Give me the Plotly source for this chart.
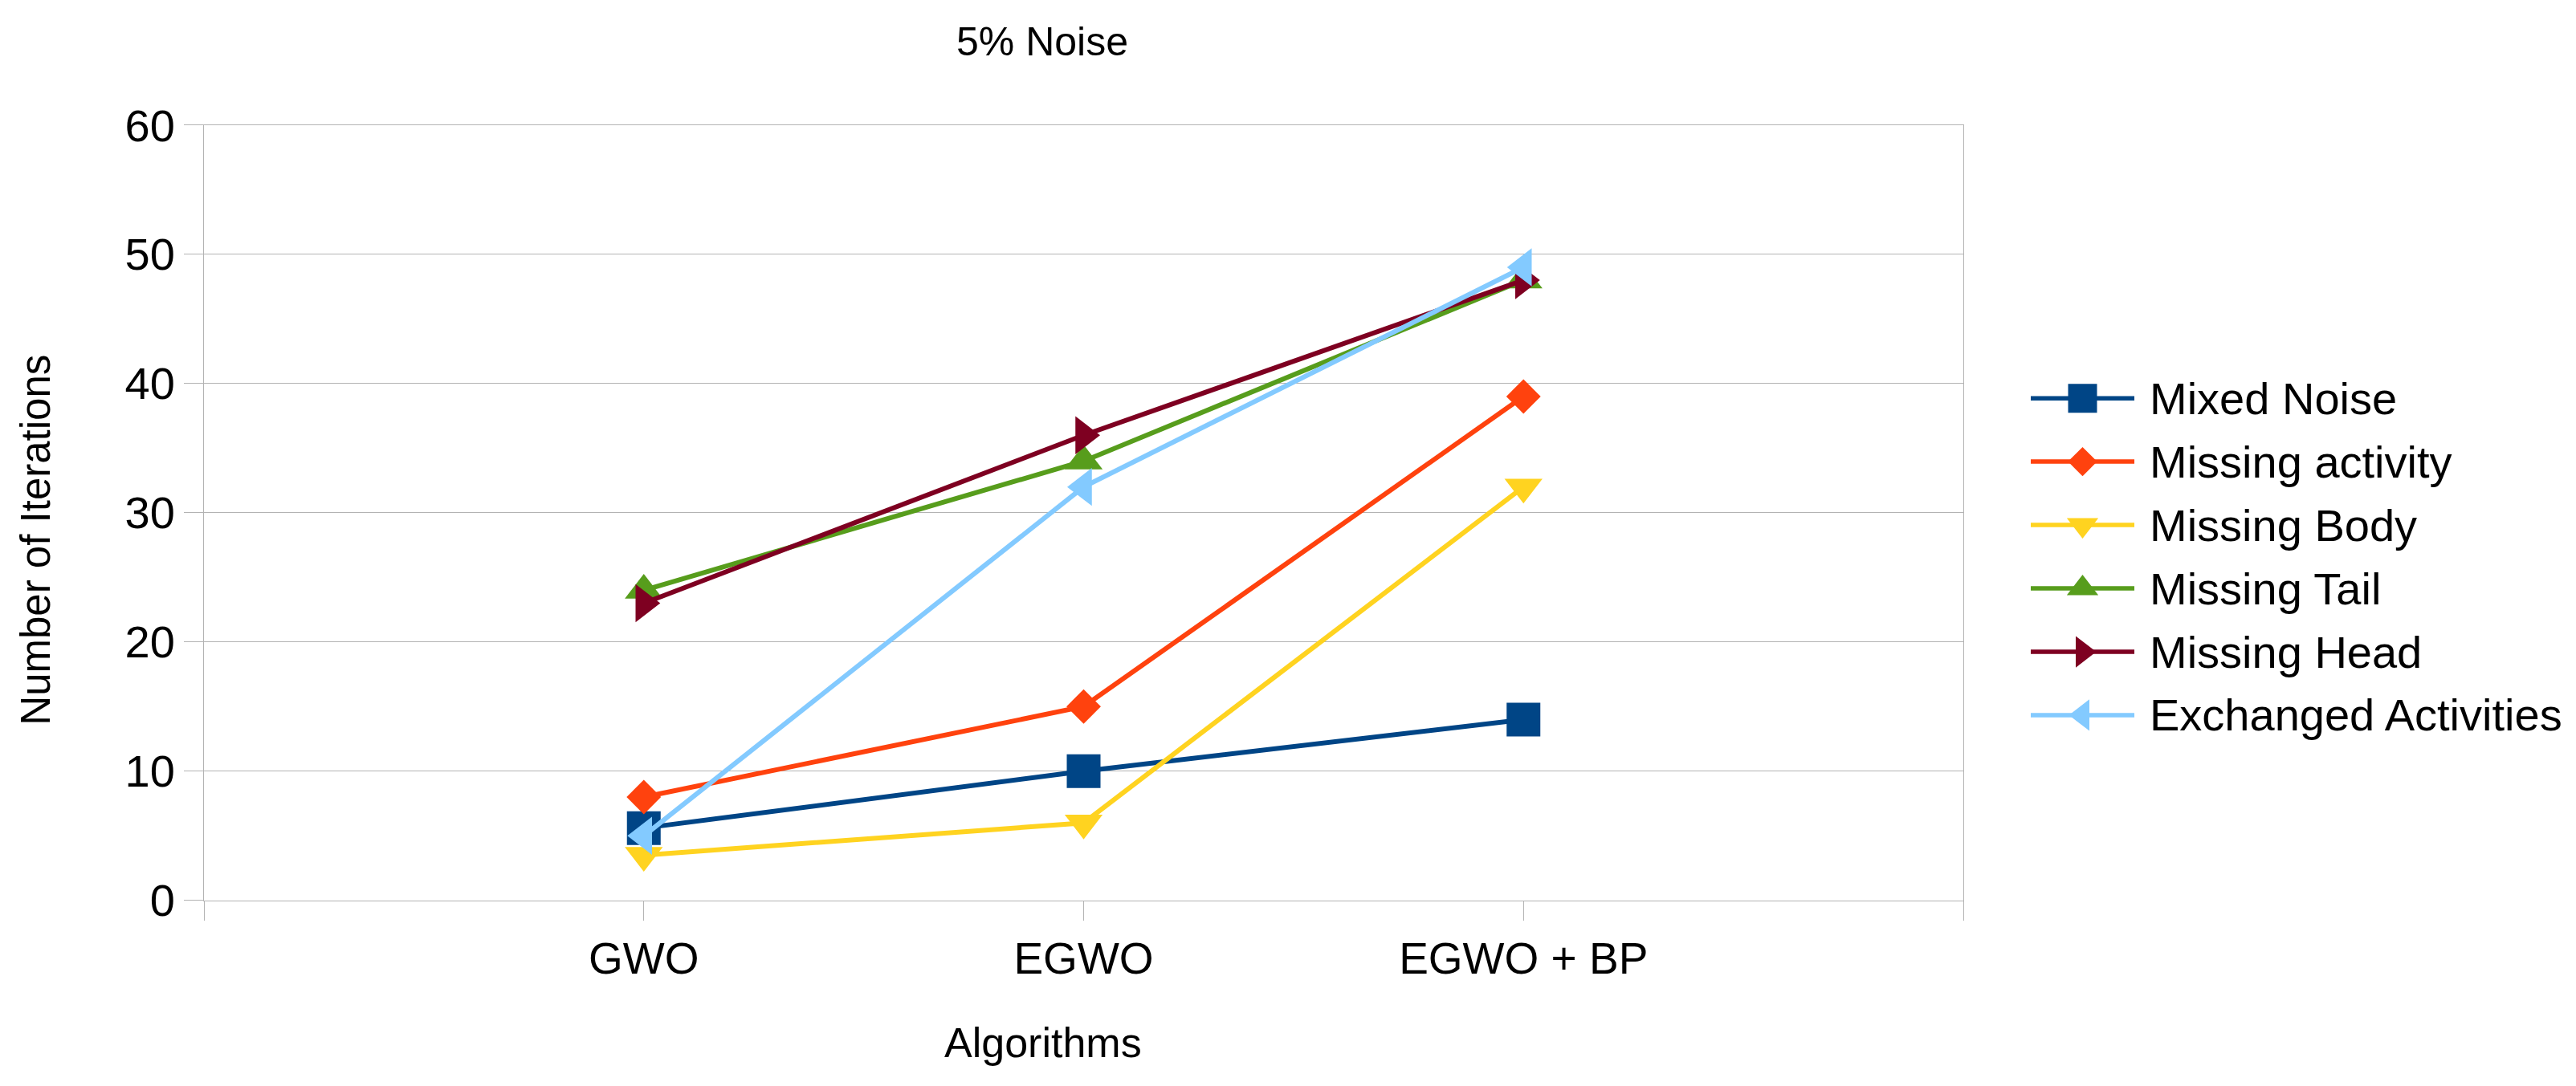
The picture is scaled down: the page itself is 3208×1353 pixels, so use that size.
import plotly.graph_objects as go

# ---------------- data ----------------
categories = ["GWO", "EGWO", "EGWO + BP"]
series_names = ["Mixed Noise", "Missing activity", "Missing Body",
                "Missing Tail", "Missing Head", "Exchanged Activities"]
mixed_noise = [5.6, 10, 14]
missing_activity = [8, 15, 39]
missing_body = [3.5, 6, 32]
missing_tail = [24, 34, 48]
missing_head = [23, 36, 48]
exchanged_activities = [5, 32, 49]
y_tick_values = [0, 10, 20, 30, 40, 50, 60]

series_values = [mixed_noise, missing_activity, missing_body,
                 missing_tail, missing_head, exchanged_activities]

# ---------------- style ----------------
colors = ["#004586", "#ff420e", "#ffd320", "#579d1c", "#7e0021", "#83caff"]
symbols = ["square", "diamond", "triangle-down", "triangle-up",
           "triangle-right", "triangle-left"]
marker_sizes = [42, 33, 41, 41, 41, 41]
legend_marker_sizes = [36, 28, 34, 34, 34, 34]
FONT = "Liberation Sans, Arial, sans-serif"
GRID = "#b3b3b3"

W, H = 3208, 1353

# layout helpers: target pixel positions (as seen in the reference) -> layout px
SQ, OY, OX = 0.9575, 36.6, 8.0


def py(y):
    return (y - OY) / SQ


def px(x):
    return x - OX


PL, PR, PT, PB = px(254), px(2445), py(154), py(1124)   # plot area

fig = go.Figure()
x_idx = list(range(len(categories)))

for name, vals, c, sym, sz in zip(series_names, series_values, colors, symbols, marker_sizes):
    fig.add_trace(go.Scatter(
        x=x_idx, y=vals, mode="lines+markers", name=name,
        line=dict(color=c, width=6),
        marker=dict(symbol=sym, size=sz, color=c, line=dict(width=0)),
        xaxis="x", yaxis="y", showlegend=False))

# ---------------- custom legend (pixel overlay axes) ----------------
LEG_X0, LEG_X1 = px(2529), px(2658)
LEG_TEXT_X = px(2675)
LEG_Y0, LEG_DY = py(495.7), 79.3 / SQ
annotations = []
for i, (name, c, sym, lsz) in enumerate(zip(series_names, colors, symbols, legend_marker_sizes)):
    yy = LEG_Y0 + i * LEG_DY
    fig.add_trace(go.Scatter(
        x=[LEG_X0, LEG_X1], y=[yy, yy], mode="lines",
        line=dict(color=c, width=5.5), xaxis="x2", yaxis="y2",
        showlegend=False, hoverinfo="skip"))
    fig.add_trace(go.Scatter(
        x=[(LEG_X0 + LEG_X1) / 2], y=[yy], mode="markers",
        marker=dict(symbol=sym, size=lsz, color=c, line=dict(width=0)),
        xaxis="x2", yaxis="y2", showlegend=False, hoverinfo="skip"))
    annotations.append(dict(
        text=name, x=LEG_TEXT_X, y=yy, xref="x2", yref="y2",
        xanchor="left", yanchor="middle", showarrow=False,
        font=dict(size=56, family=FONT, color="black")))

annotations.append(dict(text="5% Noise", x=px(1298), y=py(50), xref="x2", yref="y2",
                        xanchor="center", yanchor="middle", showarrow=False,
                        font=dict(size=50, family=FONT, color="black")))
annotations.append(dict(text="Algorithms", x=px(1299), y=py(1302), xref="x2", yref="y2",
                        xanchor="center", yanchor="middle", showarrow=False,
                        font=dict(size=52, family=FONT, color="black")))
annotations.append(dict(text="Number of Iterations", x=px(45), y=py(673), xref="x2", yref="y2",
                        xanchor="center", yanchor="middle", showarrow=False, textangle=-90,
                        font=dict(size=51, family=FONT, color="black")))

fig.update_layout(
    width=W, height=H,
    margin=dict(l=0, r=0, t=0, b=0),
    paper_bgcolor="white", plot_bgcolor="rgba(0,0,0,0)",
    font=dict(family=FONT, color="black"),
    xaxis=dict(domain=[PL / W, PR / W], range=[-1, len(categories)],
               tickvals=list(range(-1, len(categories) + 1)),
               ticktext=[""] + categories + [""],
               showgrid=False, zeroline=False,
               showline=True, mirror=True, linecolor=GRID, linewidth=1,
               ticks="outside", ticklen=24, tickcolor=GRID, tickwidth=1,
               tickfont=dict(size=55, family=FONT, color="black"),
               anchor="y", fixedrange=True),
    yaxis=dict(domain=[1 - PB / H, 1 - PT / H], range=[0, 60],
               tickvals=y_tick_values,
               showgrid=True, gridcolor=GRID, gridwidth=1, zeroline=False,
               showline=True, mirror=True, linecolor=GRID, linewidth=1,
               ticks="outside", ticklen=24, tickcolor=GRID, tickwidth=1,
               tickfont=dict(size=56, family=FONT, color="black"),
               anchor="x", fixedrange=True),
    xaxis2=dict(domain=[0, 1], range=[0, W], visible=False, anchor="y2", fixedrange=True),
    yaxis2=dict(domain=[0, 1], range=[H, 0], visible=False, anchor="x2", fixedrange=True),
    annotations=annotations,
    showlegend=False,
)

fig.write_html("out.html")
